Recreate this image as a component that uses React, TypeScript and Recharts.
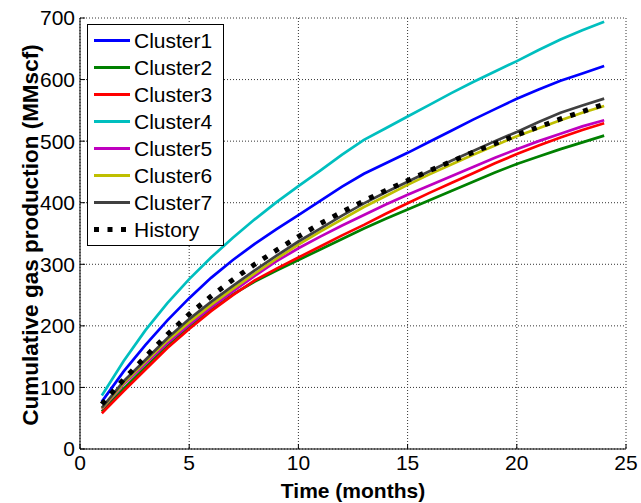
import { LineChart, Line, XAxis, YAxis, CartesianGrid, Legend } from 'recharts'

const months = [1, 2, 3, 4, 5, 6, 7, 8, 9, 10, 11, 12, 13, 14, 15, 16, 17, 18, 19, 20, 21, 22, 23, 24]

const cluster1 = [77, 126, 169, 209, 245, 278, 307, 333, 357, 380, 403, 426, 447, 464, 481, 499, 517, 535, 552, 569, 584, 598, 610, 622]
const cluster2 = [61, 98, 133, 167, 198, 226, 251, 272, 290, 307, 324, 341, 358, 374, 389, 404, 419, 434, 449, 463, 475, 487, 498, 509]
const cluster3 = [58, 94, 129, 164, 195, 224, 250, 274, 293, 311, 329, 347, 364, 382, 399, 416, 432, 448, 464, 479, 493, 506, 518, 529]
const cluster4 = [87, 143, 193, 237, 276, 311, 343, 373, 401, 427, 452, 478, 502, 521, 540, 559, 578, 596, 613, 630, 648, 665, 680, 694]
const cluster5 = [65, 105, 139, 172, 202, 230, 256, 281, 305, 326, 345, 363, 380, 397, 413, 428, 443, 458, 473, 487, 500, 512, 524, 534]
const cluster6 = [66, 107, 142, 176, 206, 234, 260, 285, 309, 332, 353, 373, 393, 411, 429, 446, 462, 478, 493, 508, 521, 534, 546, 557]
const cluster7 = [67, 110, 145, 180, 211, 239, 265, 290, 314, 337, 358, 379, 399, 417, 434, 451, 468, 484, 500, 515, 531, 546, 558, 569]
const history = [73, 113, 150, 186, 219, 248, 275, 300, 323, 345, 366, 385, 403, 420, 436, 452, 467, 482, 496, 510, 523, 536, 548, 560]

const xTicks = [0, 5, 10, 15, 20, 25]
const yTicks = [0, 100, 200, 300, 400, 500, 600, 700]

const series = [
  { key: 'Cluster1', values: cluster1, color: '#0000ff' },
  { key: 'Cluster2', values: cluster2, color: '#008000' },
  { key: 'Cluster3', values: cluster3, color: '#ff0000' },
  { key: 'Cluster4', values: cluster4, color: '#00bfbf' },
  { key: 'Cluster5', values: cluster5, color: '#bf00bf' },
  { key: 'Cluster6', values: cluster6, color: '#bfbf00' },
  { key: 'Cluster7', values: cluster7, color: '#404040' },
]

const data = months.map((t, i) => {
  const row: Record<string, number> = { t, History: history[i] }
  series.forEach((s) => {
    row[s.key] = s.values[i]
  })
  return row
})

const font = 'Liberation Sans, Arial, sans-serif'

function ChartLegend() {
  const items = [...series.map((s) => ({ key: s.key, color: s.color, dotted: false })), { key: 'History', color: '#000', dotted: true }]
  return (
    <div
      style={{
        border: '1.5px solid #000',
        background: '#fff',
        boxSizing: 'border-box',
        width: 137,
        height: 222,
        paddingTop: 2,
        fontFamily: font,
        fontSize: 21,
      }}
    >
      {items.map((it) => (
        <div key={it.key} style={{ height: 27, display: 'flex', alignItems: 'center' }}>
          <svg width={46} height={27} style={{ flex: 'none' }}>
            <line
              x1={6}
              x2={42}
              y1={13.5}
              y2={13.5}
              stroke={it.color}
              strokeWidth={it.dotted ? 5 : 3}
              strokeDasharray={it.dotted ? '5 8.5' : undefined}
            />
          </svg>
          <span style={{ lineHeight: '27px' }}>{it.key}</span>
        </div>
      ))}
    </div>
  )
}

export default function App() {
  return (
    <div style={{ position: 'absolute', left: 0, top: 0, background: '#fff' }}>
      <LineChart width={641} height={503} data={data} margin={{ top: 18, right: 15, bottom: 0, left: 0 }}>
        <CartesianGrid stroke="#333" strokeDasharray="1 2" />
        <XAxis
          dataKey="t"
          type="number"
          domain={[0, 25]}
          ticks={xTicks}
          height={54}
          tickSize={-5}
          tickMargin={11}
          stroke="#000"
          tick={{ fill: '#000', fontSize: 21, fontFamily: font }}
          label={{ value: 'Time (months)', position: 'insideBottom', offset: 5, fill: '#000', fontSize: 21, fontWeight: 'bold', fontFamily: font }}
        />
        <XAxis xAxisId="top" orientation="top" type="number" domain={[0, 25]} ticks={xTicks} height={0} tickSize={-5} tick={false} stroke="#000" />
        <YAxis
          type="number"
          domain={[0, 700]}
          ticks={yTicks}
          width={80}
          tickSize={-5}
          tickMargin={10}
          stroke="#000"
          tick={{ fill: '#000', fontSize: 21, fontFamily: font }}
          label={() => (
            <text
              x={30}
              y={235}
              transform="rotate(-90 30 235)"
              textAnchor="middle"
              dominantBaseline="central"
              fill="#000"
              fontSize={22.5}
              fontWeight="bold"
              fontFamily={font}
            >
              Cumulative gas production (MMscf)
            </text>
          )}
        />
        <YAxis yAxisId="right" orientation="right" type="number" domain={[0, 700]} ticks={yTicks} width={0} tickSize={-5} tick={false} stroke="#000" />
        {series.map((s) => (
          <Line
            key={s.key}
            dataKey={s.key}
            stroke={s.color}
            strokeWidth={2.7}
            dot={false}
            type="linear"
            isAnimationActive={false}
          />
        ))}
        <Line
          dataKey="History"
          stroke="#000"
          strokeWidth={5}
          strokeDasharray="5 8.6"
          dot={false}
          type="linear"
          isAnimationActive={false}
        />
        <Legend
          layout="vertical"
          align="center"
          verticalAlign="middle"
          content={() => <ChartLegend />}
          wrapperStyle={{ left: 87, top: 24, width: 137, height: 222 }}
        />
      </LineChart>
    </div>
  )
}
